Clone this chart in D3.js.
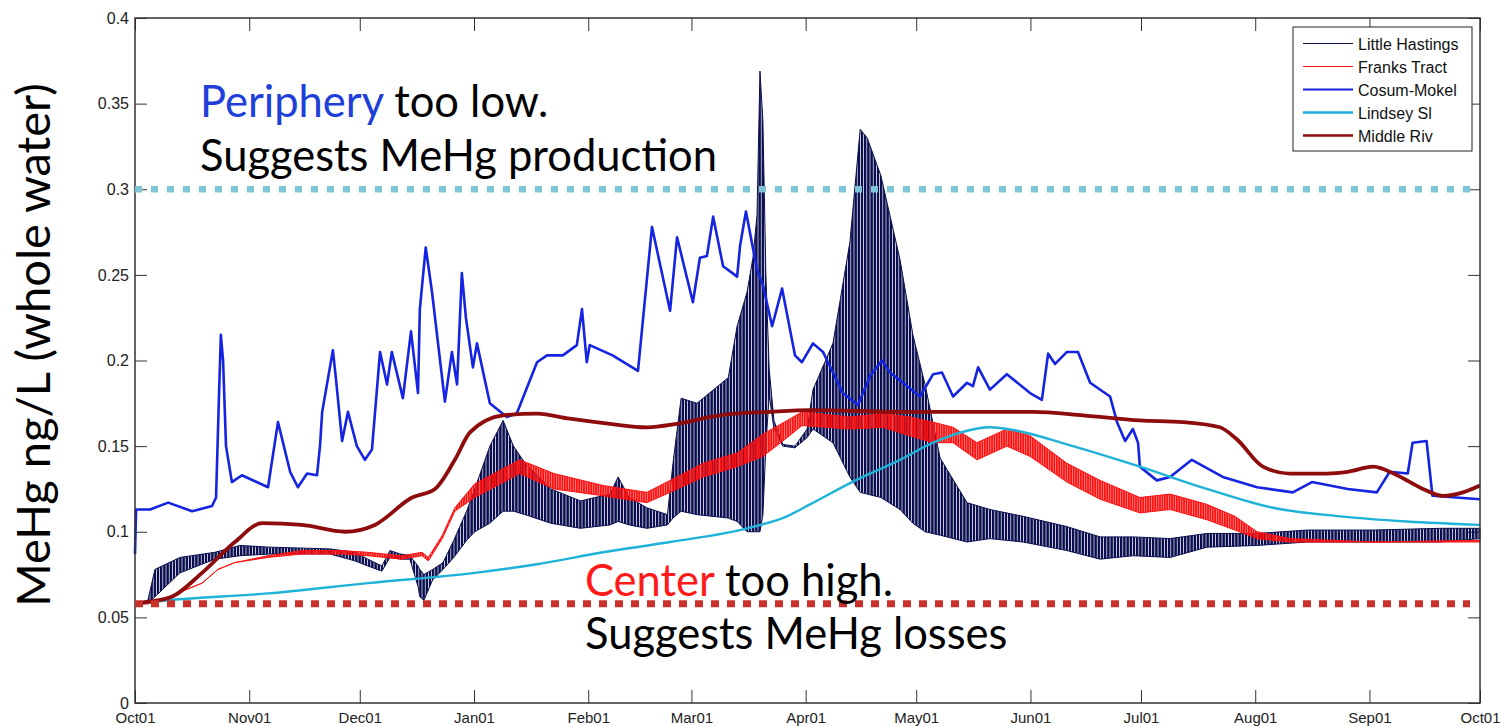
<!DOCTYPE html>
<html>
<head>
<meta charset="utf-8">
<script src="https://cdn.jsdelivr.net/npm/d3@7"></script>
<style>
  body { margin: 0; background: #fff; }
  .tick text { font-family: "Liberation Sans", Arial, sans-serif; fill: #222; }
  .tick line { stroke: #333; }
  .domain { display: none; }
</style>
</head>
<body>
<div id="chart"></div>
<script>
// ---- data (day offset from Oct 1 2001, value in ng/L) ----
const xTickLabels = ["Oct01", "Nov01", "Dec01", "Jan01", "Feb01", "Mar01", "Apr01", "May01", "Jun01", "Jul01", "Aug01", "Sep01", "Oct01"];
const xTickDates = ["2001-10-01", "2001-11-01", "2001-12-01", "2002-01-01", "2002-02-01", "2002-03-01", "2002-04-01", "2002-05-01", "2002-06-01", "2002-07-01", "2002-08-01", "2002-09-01", "2002-10-01"];
const yTicks = [0, 0.05, 0.1, 0.15, 0.2, 0.25, 0.3, 0.35, 0.4];

const seriesNames = ["Little Hastings", "Franks Tract", "Cosum-Mokel", "Lindsey Sl", "Middle Riv"];

// Little Hastings: [day, low, high] envelope of the tidal signal
const littleHastings = [
  [0, 0.058, 0.058], [3.5, 0.058, 0.060], [5.4, 0.062, 0.078], [12.2, 0.076, 0.085], [21.7, 0.084, 0.088],
  [28.5, 0.086, 0.092], [36.6, 0.087, 0.091], [52.9, 0.087, 0.090], [59.7, 0.083, 0.088], [63.2, 0.080, 0.084],
  [67.0, 0.077, 0.080], [69.2, 0.085, 0.089], [72.0, 0.084, 0.087], [74.6, 0.084, 0.086], [76.8, 0.068, 0.080],
  [77.3, 0.062, 0.078], [78.4, 0.060, 0.075], [80.8, 0.072, 0.078], [83.6, 0.078, 0.082], [86.5, 0.085, 0.095],
  [90.0, 0.095, 0.112], [92.2, 0.100, 0.125], [96.3, 0.105, 0.150], [99.9, 0.112, 0.165], [102.7, 0.112, 0.150],
  [105.9, 0.110, 0.140], [112.8, 0.105, 0.125], [120.9, 0.102, 0.118], [128.9, 0.104, 0.122], [131.1, 0.106, 0.132],
  [134.1, 0.104, 0.120], [138.9, 0.102, 0.114], [144.5, 0.104, 0.110], [146.0, 0.108, 0.140], [148.2, 0.112, 0.178],
  [152.5, 0.110, 0.175], [161.0, 0.108, 0.190], [163.4, 0.106, 0.220], [166.1, 0.100, 0.240], [167.7, 0.100, 0.260],
  [168.8, 0.100, 0.285], [169.6, 0.100, 0.369], [170.4, 0.110, 0.340], [171.2, 0.150, 0.250], [172.1, 0.180, 0.195],
  [173.4, 0.160, 0.165], [175.8, 0.150, 0.151], [179.1, 0.149, 0.150], [182.4, 0.155, 0.160], [184.0, 0.160, 0.183],
  [189.4, 0.152, 0.210], [194.0, 0.132, 0.269], [196.8, 0.123, 0.335], [198.7, 0.122, 0.330], [202.4, 0.120, 0.308],
  [207.6, 0.113, 0.259], [211.1, 0.105, 0.215], [214.4, 0.100, 0.186], [218.5, 0.098, 0.143], [225.8, 0.094, 0.117],
  [232.0, 0.096, 0.113], [241.0, 0.094, 0.109], [252.9, 0.089, 0.103], [261.9, 0.084, 0.097], [270.9, 0.086, 0.097],
  [280.9, 0.085, 0.096], [290.9, 0.091, 0.099], [304.5, 0.092, 0.099], [318.1, 0.094, 0.101], [336.0, 0.094, 0.101],
  [354.2, 0.094, 0.102], [365, 0.096, 0.102]
];

// Franks Tract: [day, low, high]
const franksTract = [
  [0, 0.058, 0.058], [3.5, 0.058, 0.058], [9.0, 0.062, 0.062], [18.2, 0.070, 0.070], [22.5, 0.078, 0.078],
  [27.1, 0.082, 0.082], [36.1, 0.085, 0.086], [45.3, 0.087, 0.089], [56.2, 0.087, 0.089], [63.2, 0.086, 0.088],
  [72.4, 0.084, 0.086], [77.9, 0.086, 0.088], [79.6, 0.083, 0.085], [83.4, 0.096, 0.098], [86.8, 0.112, 0.114],
  [92.2, 0.120, 0.128], [104.4, 0.134, 0.142], [113.7, 0.125, 0.134], [127.0, 0.121, 0.127], [138.9, 0.117, 0.123],
  [145.2, 0.123, 0.130], [154.2, 0.132, 0.140], [163.4, 0.138, 0.146], [170.4, 0.144, 0.157], [177.0, 0.155, 0.165],
  [181.0, 0.162, 0.170], [194.0, 0.160, 0.167], [203.0, 0.161, 0.169], [210.3, 0.156, 0.167], [216.6, 0.152, 0.164],
  [222.0, 0.152, 0.161], [228.5, 0.142, 0.152], [236.6, 0.150, 0.160], [242.9, 0.144, 0.156], [252.9, 0.129, 0.140],
  [261.9, 0.119, 0.130], [272.7, 0.111, 0.120], [280.9, 0.113, 0.122], [290.9, 0.107, 0.116], [298.5, 0.101, 0.109],
  [304.5, 0.096, 0.100], [313.4, 0.094, 0.096], [336.0, 0.094, 0.094], [365, 0.094, 0.095]
];

// Cosum-Mokel: [day, value]
const cosumMokel = [
  [0, 0.087], [0.3, 0.113], [4.1, 0.113], [9.0, 0.117], [15.5, 0.112], [20.9, 0.115], [22.0, 0.120], [22.8, 0.180],
  [23.3, 0.215], [23.9, 0.200], [24.7, 0.150], [26.3, 0.129], [29.0, 0.133], [36.1, 0.126], [38.8, 0.164], [42.1, 0.135],
  [44.2, 0.126], [46.7, 0.134], [49.4, 0.133], [50.2, 0.150], [50.8, 0.170], [53.7, 0.206], [54.5, 0.190], [56.2, 0.153],
  [57.8, 0.170], [60.2, 0.150], [62.4, 0.142], [64.3, 0.148], [66.5, 0.205], [68.4, 0.186], [69.7, 0.205], [72.7, 0.178],
  [74.9, 0.217], [76.8, 0.181], [77.3, 0.230], [78.9, 0.266], [80.6, 0.240], [84.1, 0.176], [86.0, 0.205], [87.4, 0.186],
  [88.7, 0.251], [89.8, 0.225], [91.7, 0.196], [92.8, 0.210], [96.3, 0.175], [100.9, 0.167], [103.6, 0.169], [109.1, 0.199],
  [111.8, 0.203], [116.1, 0.203], [119.9, 0.209], [121.3, 0.230], [122.6, 0.199], [123.4, 0.209], [129.6, 0.203], [136.5, 0.194],
  [140.3, 0.278], [145.2, 0.229], [147.1, 0.272], [151.4, 0.234], [153.3, 0.260], [155.2, 0.261], [156.9, 0.284], [159.6, 0.255],
  [163.4, 0.249], [164.2, 0.267], [165.8, 0.287], [168.8, 0.253], [170.4, 0.244], [172.9, 0.220], [175.6, 0.242], [179.1, 0.203],
  [181.0, 0.199], [184.0, 0.210], [186.7, 0.205], [189.4, 0.193], [192.1, 0.181], [196.2, 0.174], [199.5, 0.191], [202.7, 0.200],
  [204.9, 0.193], [208.4, 0.187], [213.0, 0.179], [216.6, 0.192], [219.0, 0.193], [222.0, 0.179], [225.8, 0.187], [227.4, 0.185],
  [228.8, 0.196], [232.0, 0.183], [236.6, 0.192], [242.9, 0.181], [246.1, 0.177], [247.8, 0.204], [249.7, 0.198], [252.9, 0.205],
  [255.9, 0.205], [259.2, 0.187], [264.6, 0.179], [266.5, 0.164], [268.7, 0.153], [270.8, 0.160], [272.2, 0.152], [272.7, 0.138],
  [277.3, 0.130], [280.9, 0.132], [286.8, 0.142], [295.2, 0.132], [304.5, 0.126], [314.2, 0.123], [319.4, 0.129], [329.1, 0.125],
  [337.0, 0.123], [340.5, 0.135], [345.4, 0.134], [346.7, 0.152], [350.5, 0.153], [352.1, 0.121], [365, 0.119]
];

// Lindsey Sl: [day, value]
const lindseySl = [
  [0, 0.058], [9.0, 0.060], [36.1, 0.064], [63.2, 0.070], [92.2, 0.076], [109.1, 0.081], [127.0, 0.088], [145.2, 0.094],
  [166.1, 0.102], [176.9, 0.109], [183.2, 0.116], [194.6, 0.129], [207.6, 0.142], [216.6, 0.152], [225.8, 0.159], [232.0, 0.161],
  [239.4, 0.159], [252.9, 0.151], [272.7, 0.138], [290.9, 0.125], [308.8, 0.114], [327.0, 0.109], [345.2, 0.106], [365, 0.104]
];

// Middle Riv: [day, value]
const middleRiv = [
  [0, 0.058], [3.5, 0.059], [10.0, 0.062], [18.2, 0.076], [27.1, 0.094], [34.5, 0.105], [45.3, 0.104], [57.0, 0.100],
  [65.1, 0.104], [75.2, 0.120], [81.4, 0.125], [86.8, 0.142], [90.9, 0.158], [99.9, 0.168], [109.1, 0.169], [118.0, 0.166],
  [128.9, 0.163], [138.9, 0.161], [147.1, 0.163], [158.7, 0.168], [172.3, 0.170], [183.2, 0.171], [207.6, 0.170], [243.7, 0.170],
  [257.3, 0.168], [272.7, 0.165], [284.4, 0.164], [294.4, 0.161], [299.0, 0.154], [306.1, 0.138], [313.4, 0.134], [323.5, 0.134],
  [329.1, 0.135], [336.0, 0.138], [342.5, 0.133], [349.5, 0.125], [354.9, 0.121], [360.4, 0.123], [365, 0.127]
];

const refHigh = 0.30;   // periphery threshold
const refLow = 0.058;   // center threshold

// ---- layout ----
const W = 1500, H = 726;
const plot = {left: 135, right: 1480, top: 18, bottom: 703};
const start = Date.UTC(2001, 9, 1);
const toDate = day => new Date(start + day * 864e5);

const svg = d3.select("#chart").append("svg")
    .attr("width", W)
    .attr("height", H)
    .style("font-family", "Lato, 'Open Sans', sans-serif");

const x = d3.scaleUtc()
    .domain([toDate(0), toDate(365)])
    .range([plot.left, plot.right]);

const y = d3.scaleLinear()
    .domain([0, 0.4])
    .range([plot.bottom, plot.top]);

const colors = {
  hastings: "#0b0f50",
  franks: "#ff1010",
  cosum: "#1424e0",
  lindsey: "#1fb2d8",
  middle: "#8e0c0c"
};

// vertical hatch patterns to mimic the dense tidal oscillation
const defs = svg.append("defs");
const hatch = (id, color, step, w) => {
  defs.append("pattern")
      .attr("id", id)
      .attr("patternUnits", "userSpaceOnUse")
      .attr("width", step).attr("height", 20)
    .append("rect")
      .attr("width", w).attr("height", 20)
      .attr("fill", color);
};
hatch("hatchNavy", colors.hastings, 3.2, 2.5);
hatch("hatchRed", colors.franks, 2.4, 2.0);

svg.append("rect")
    .attr("x", plot.left).attr("y", plot.top)
    .attr("width", plot.right - plot.left).attr("height", plot.bottom - plot.top)
    .attr("fill", "#fff");

// Axes with inward ticks
const tickDates = xTickDates.map(s => new Date(s + "T00:00:00Z"));
svg.append("g")
    .attr("transform", `translate(0,${plot.bottom})`)
    .call(d3.axisBottom(x).tickValues(tickDates)
        .tickFormat((d, i) => xTickLabels[i])
        .tickSize(-13).tickPadding(9))
    .selectAll("text").style("font-size", "15px");

svg.append("g")
    .attr("transform", `translate(0,${plot.top})`)
    .call(d3.axisTop(x).tickValues(tickDates).tickFormat("").tickSize(-13));

svg.append("g")
    .attr("transform", `translate(${plot.left},0)`)
    .call(d3.axisLeft(y).tickValues(yTicks)
        .tickFormat(d => d3.format("~g")(d))
        .tickSize(-12).tickPadding(6))
    .selectAll("text").style("font-size", "16px");

svg.append("g")
    .attr("transform", `translate(${plot.right},0)`)
    .call(d3.axisRight(y).tickValues(yTicks).tickFormat("").tickSize(-12));

// series
const band = d3.area()
    .x(d => x(toDate(d[0])))
    .y0(d => y(d[1]))
    .y1(d => y(d[2]));

const line = d3.line()
    .x(d => x(toDate(d[0])))
    .y(d => y(d[1]));

svg.append("path")
    .datum(littleHastings)
    .attr("d", band)
    .attr("fill", "url(#hatchNavy)")
    .attr("stroke", colors.hastings)
    .attr("stroke-width", 1);

svg.append("path")
    .datum(franksTract)
    .attr("d", band)
    .attr("fill", "url(#hatchRed)")
    .attr("stroke", colors.franks)
    .attr("stroke-width", 1);

svg.append("path")
    .datum(cosumMokel)
    .attr("d", line)
    .attr("fill", "none")
    .attr("stroke", colors.cosum)
    .attr("stroke-width", 2.6)
    .attr("stroke-linejoin", "round");

svg.append("path")
    .datum(lindseySl)
    .attr("d", line.curve(d3.curveMonotoneX))
    .attr("fill", "none")
    .attr("stroke", colors.lindsey)
    .attr("stroke-width", 2.4);

svg.append("path")
    .datum(middleRiv)
    .attr("d", line.curve(d3.curveMonotoneX))
    .attr("fill", "none")
    .attr("stroke", colors.middle)
    .attr("stroke-width", 3.8);

// frame on top
svg.append("rect")
    .attr("x", plot.left).attr("y", plot.top)
    .attr("width", plot.right - plot.left).attr("height", plot.bottom - plot.top)
    .attr("fill", "none")
    .attr("stroke", "#333")
    .attr("stroke-width", 1.5);

// legend
const legend = svg.append("g").attr("transform", "translate(1293,27)");
legend.append("rect")
    .attr("width", 179).attr("height", 124)
    .attr("fill", "#fff").attr("stroke", "#222").attr("stroke-width", 1);
const legendColors = [colors.hastings, colors.franks, colors.cosum, colors.lindsey, colors.middle];
const legendWidths = [1.2, 1.2, 2.2, 2.4, 2.4];
seriesNames.forEach((name, i) => {
  const yy = 16.5 + i * 23;
  legend.append("line")
      .attr("x1", 10).attr("x2", 60).attr("y1", yy).attr("y2", yy)
      .attr("stroke", legendColors[i]).attr("stroke-width", legendWidths[i]);
  legend.append("text")
      .attr("x", 65).attr("y", yy + 6)
      .style("font-family", "'Liberation Sans', Arial, sans-serif")
      .style("font-size", "16px")
      .attr("fill", "#111")
      .text(name);
});

// reference dotted lines
svg.append("line")
    .attr("x1", plot.left).attr("x2", plot.right - 10)
    .attr("y1", y(refHigh)).attr("y2", y(refHigh))
    .attr("stroke", "#7fc4d6").attr("stroke-width", 6.5)
    .attr("stroke-dasharray", "7,9");

svg.append("line")
    .attr("x1", plot.left).attr("x2", plot.right - 10)
    .attr("y1", y(refLow)).attr("y2", y(refLow))
    .attr("stroke", "#c8302c").attr("stroke-width", 7)
    .attr("stroke-dasharray", "8,8");

// annotations
const note = (xx, yy, parts) => {
  const t = svg.append("text")
      .attr("x", xx).attr("y", yy)
      .style("font-size", "43.5px");
  parts.forEach(p => t.append("tspan").attr("fill", p[1]).text(p[0]));
};
note(200, 117, [["Periphery", "#1e3fd8"], [" too low.", "#000"]]);
note(200, 171, [["Suggests MeHg production", "#000"]]);
note(585, 596, [["Center", "#ff1a1a"], [" too high.", "#000"]]);
note(585, 649, [["Suggests MeHg losses", "#000"]]);

// y axis label
svg.append("text")
    .attr("transform", "translate(50,345) rotate(-90)")
    .attr("text-anchor", "middle")
    .style("font-size", "47px")
    .attr("fill", "#000")
    .text("MeHg ng/L (whole water)");
</script>
</body>
</html>
